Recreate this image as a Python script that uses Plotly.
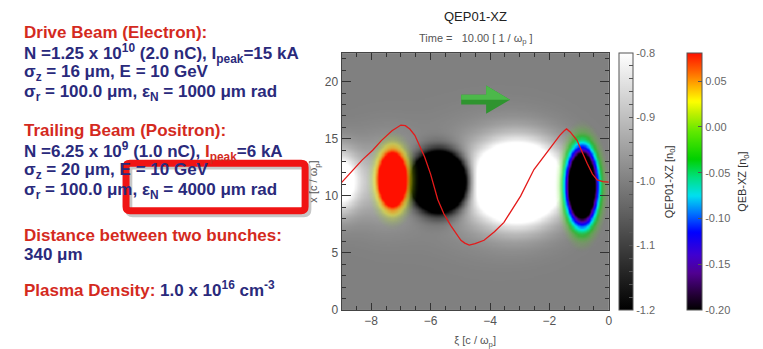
import numpy as np
import plotly.graph_objects as go

W, H = 763, 349

# ---------------- data ----------------
# red lineout curve (xi, x)
xi_line = [-9.0, -8.6, -8.3, -7.95, -7.65, -7.3, -7.1, -7.0, -6.85, -6.7, -6.53, -6.2, -6.0,
           -5.76, -5.55, -5.32, -4.98, -4.85, -4.7, -4.5, -4.2, -3.85, -3.53, -2.97, -2.52,
           -1.96, -1.65, -1.5, -1.42, -1.3, -1.07, -0.73, -0.55, -0.39, -0.2, 0.0]
x_line = [11.15, 12.3, 13.15, 14.0, 14.86, 15.7, 16.05, 16.2, 16.15, 15.85, 15.3, 13.4, 11.9,
          9.68, 8.4, 7.39, 6.1, 5.85, 5.67, 5.8, 6.1, 6.85, 7.67, 9.97, 12.3,
          14.3, 15.3, 15.7, 15.86, 15.6, 14.86, 12.86, 11.9, 11.4, 11.25, 11.2]

# plasma density features (QEP01): background + blobs (center xi, center x, sigma xi, sigma x, amplitude)
plasma_background = -1.0
plasma_cx = [-5.72, -3.05, -9.1, -7.6, -4.0]
plasma_cy = [11.25, 11.2, 11.3, 11.3, 11.2]
plasma_sx = [0.5, 0.95, 0.45, 0.8, 1.5]
plasma_sy = [1.35, 2.2, 1.8, 2.4, 3.0]
plasma_amp = [-1.8, 0.6, 0.3, 0.1, 0.08]

# beam density features (QEB): trailing positron, drive electron
beam_cx = [-7.3, -0.92]
beam_cy = [11.45, 10.9]
beam_sx = [0.29, 0.285]
beam_sy = [1.45, 1.8]
beam_amp = [0.30, -0.69]

gray_ticks = [-1.2, -1.1, -1.0, -0.9, -0.8]
beam_ticks = [-0.20, -0.15, -0.10, -0.05, 0.00, 0.05]

# ---------------- build fields ----------------
xi = np.round(np.arange(-9.0, 0.0001, 0.05), 3)
xx = np.round(np.arange(0.0, 22.5001, 0.1), 3)
XI, XX = np.meshgrid(xi, xx)

plasma = np.full(XI.shape, plasma_background)
for cx, cy, sx, sy, a in zip(plasma_cx, plasma_cy, plasma_sx, plasma_sy, plasma_amp):
    plasma += a * np.exp(-((XI - cx) ** 2 / (2 * sx ** 2) + (XX - cy) ** 2 / (2 * sy ** 2)))
beam = np.zeros(XI.shape)
for cx, cy, sx, sy, a in zip(beam_cx, beam_cy, beam_sx, beam_sy, beam_amp):
    beam += a * np.exp(-((XI - cx) ** 2 / (2 * sx ** 2) + (XX - cy) ** 2 / (2 * sy ** 2)))
plasma = np.round(plasma, 3)
beam = np.round(beam, 4)

BMIN, BMAX = -0.20, 0.081
stops = [(-0.20, (0, 0, 0)), (-0.185, (32, 0, 48)), (-0.16, (80, 0, 144)), (-0.14, (64, 0, 208)),
         (-0.115, (0, 0, 255)), (-0.095, (0, 112, 255)), (-0.075, (0, 224, 240)),
         (-0.055, (0, 224, 128)), (-0.035, (0, 208, 0)), (-0.005, (96, 232, 0)),
         (0.015, (192, 240, 0)), (0.028, (255, 255, 0)), (0.045, (255, 176, 0)),
         (0.062, (255, 96, 0)), (0.081, (255, 16, 0))]


def color_at(v):
    for (v0, c0), (v1, c1) in zip(stops[:-1], stops[1:]):
        if v0 <= v <= v1:
            t = (v - v0) / (v1 - v0)
            return tuple(int(round(c0[i] + t * (c1[i] - c0[i]))) for i in range(3))
    return stops[-1][1] if v > 0 else stops[0][1]


def alpha_at(v):
    if v < 0:
        return float(np.clip((-v - 0.004) / 0.06, 0, 1)) ** 0.9
    return float(np.clip((v - 0.003) / 0.07, 0, 1)) ** 0.85


p_zero = (0 - BMIN) / (BMAX - BMIN)
ps = sorted(set([round(float(p), 5) for p in np.linspace(0, 1, 141)] +
                [round(p_zero, 5), round(p_zero - 0.012, 5), round(p_zero + 0.012, 5)]))
solid_scale = []
alpha_scale = []
for p in ps:
    v = BMIN + p * (BMAX - BMIN)
    r, g, b = color_at(v)
    solid_scale.append([p, f"rgb({r},{g},{b})"])
    alpha_scale.append([p, f"rgba({r},{g},{b},{alpha_at(v):.3f})"])

# ---------------- figure ----------------
x0p, x1p = 343.3 / W, 612 / W
y0p, y1p = 1 - 316.2 / H, 1 - 54.3 / H
cb_font = dict(family="Liberation Sans", size=11, color="#666")

fig = go.Figure()
gt = [round(v, 2) for v in np.arange(-1.2, -0.799, 0.02)]
fig.add_trace(go.Heatmap(
    x=xi, y=xx, z=plasma, zmin=-1.2, zmax=-0.8, zsmooth="best",
    colorscale=[[0, "black"], [1, "white"]], hoverinfo="skip",
    colorbar=dict(x=622.3 / W, xanchor="left", xpad=0, ypad=0, thickness=14,
                  len=(316.5 - 54) / H, lenmode="fraction", y=y0p, yanchor="bottom",
                  outlinewidth=1, outlinecolor="#555",
                  tickvals=gt,
                  ticktext=[(f"{v:.1f}" if any(abs(v - t) < 1e-6 for t in gray_ticks) else "")
                            for v in gt],
                  ticks="inside", ticklen=4, tickcolor="#555", tickfont=cb_font)))
fig.add_trace(go.Heatmap(
    x=xi, y=xx, z=beam, zmin=BMIN, zmax=BMAX, zsmooth="best",
    colorscale=alpha_scale, showscale=False, hoverinfo="skip"))
fig.add_trace(go.Scatter(
    x=xi_line, y=x_line, mode="lines", line=dict(color="#e41a1a", width=1.3),
    hoverinfo="skip", showlegend=False))
fig.add_trace(go.Scatter(
    x=[-100], y=[-100], mode="markers", showlegend=False, hoverinfo="skip",
    marker=dict(size=1, color=[0], cmin=BMIN, cmax=BMAX, colorscale=solid_scale, showscale=True,
                colorbar=dict(x=690.7 / W, xanchor="left", xpad=0, ypad=0, thickness=15,
                              len=(316.5 - 54) / H, lenmode="fraction", y=y0p, yanchor="bottom",
                              outlinewidth=1, outlinecolor="#555",
                              tickvals=beam_ticks, ticktext=[f"{v:.2f}" for v in beam_ticks],
                              ticks="inside", ticklen=4, tickcolor="#555", tickfont=cb_font))))

axis_font = dict(family="Liberation Sans", size=12, color="#555")
fig.update_xaxes(domain=[x0p, x1p], range=[-9, 0], tickvals=[-8, -6, -4, -2, 0],
                 ticks="inside", ticklen=7, tickcolor="#333", mirror="ticks", showline=True,
                 linecolor="#444", linewidth=1, showgrid=False, zeroline=False,
                 minor=dict(ticks="inside", dtick=0.5, ticklen=4, tickcolor="#333"),
                 tickfont=axis_font,
                 title=dict(text="ξ [c / ω<sub>p</sub>]", standoff=9,
                            font=dict(family="Liberation Sans", size=11, color="#555")))
fig.update_yaxes(domain=[y0p, y1p], range=[0, 22.5], tickvals=[0, 5, 10, 15, 20],
                 ticks="inside", ticklen=9, tickcolor="#333", mirror="ticks", showline=True,
                 linecolor="#444", linewidth=1, showgrid=False, zeroline=False,
                 minor=dict(ticks="inside", dtick=1, ticklen=4, tickcolor="#333"),
                 tickfont=axis_font,
                 title=dict(text="x [c / ω<sub>p</sub>]", standoff=4,
                            font=dict(family="Liberation Sans", size=11, color="#555")))

# colorbar titles (rotated)
for txt, xc in [("QEP01-XZ [n<sub>0</sub>]", 673.5), ("QEB-XZ [n<sub>0</sub>]", 747.5)]:
    fig.add_annotation(x=xc / W, y=1 - 185 / H, xref="paper", yref="paper", showarrow=False,
                       xanchor="center", yanchor="middle", textangle=-90, text=txt,
                       font=dict(family="Liberation Sans", size=11, color="#333"))

# green direction arrow (data coords): darker lower half, lighter upper half
fig.add_shape(type="path", xref="x", yref="y",
              path="M -4.97 18.0 L -4.13 18.0 L -4.13 17.2 L -3.32 18.42 L -4.13 19.66 L -4.13 18.85 L -4.97 18.85 Z",
              fillcolor="#2f942f", line=dict(width=0))
fig.add_shape(type="path", xref="x", yref="y",
              path="M -4.97 18.42 L -3.32 18.42 L -4.13 19.66 L -4.13 18.85 L -4.97 18.85 Z",
              fillcolor="#4cb84a", line=dict(width=0))

# chart titles
fig.add_annotation(x=478 / W, y=1 - 16.5 / H, xref="paper", yref="paper", showarrow=False,
                   yanchor="middle", text="QEP01-XZ",
                   font=dict(family="Liberation Sans", size=13, color="#222"))
fig.add_annotation(x=479 / W, y=1 - 40 / H, xref="paper", yref="paper", showarrow=False,
                   yanchor="middle", text="Time =   10.00 [ 1 / ω<sub>p</sub> ]",
                   font=dict(family="Liberation Sans", size=11, color="#555"))

# left slide text
RED = "#d42a1e"
NAVY = "#2a2a7c"
lines = [
    ("Drive Beam (Electron):", RED, 33),
    ("N =1.25 x 10<sup>10</sup> (2.0 nC), I<sub>peak</sub>=15 kA", NAVY, 55),
    ("σ<sub>z</sub> = 16 μm, E = 10 GeV", NAVY, 75),
    ("σ<sub>r</sub> = 100.0 μm, ε<sub>N</sub> = 1000 μm rad", NAVY, 95),
    ("Trailing Beam (Positron):", RED, 133),
    (f"N =6.25 x 10<sup>9</sup> (1.0 nC), <span style='color:{RED}'>I<sub>peak</sub></span>=6 kA", NAVY, 155),
    ("σ<sub>z</sub> = 20 μm, E = 10 GeV", NAVY, 175),
    ("σ<sub>r</sub> = 100.0 μm, ε<sub>N</sub> = 4000 μm rad", NAVY, 195),
    ("Distance between two bunches:", RED, 240),
    ("340 μm", NAVY, 260),
    (f"Plasma Density: <span style='color:{NAVY}'>1.0 x 10<sup>16</sup> cm<sup>-3</sup></span>", RED, 295),
]
for txt, col, yc in lines:
    fig.add_annotation(x=22.5 / W, y=1 - yc / H, xref="paper", yref="paper", xanchor="left",
                       yanchor="middle", showarrow=False, text=f"<b>{txt}</b>",
                       font=dict(family="Liberation Sans", size=17, color=col))


def px_path(x0, y0, x1, y1, r):
    X0, X1 = x0 / W, x1 / W
    Y0, Y1 = 1 - y0 / H, 1 - y1 / H
    rx, ry = r / W, r / H
    return (f"M {X0 + rx} {Y0} L {X1 - rx} {Y0} Q {X1} {Y0} {X1} {Y0 - ry} L {X1} {Y1 + ry} "
            f"Q {X1} {Y1} {X1 - rx} {Y1} L {X0 + rx} {Y1} Q {X0} {Y1} {X0} {Y1 + ry} "
            f"L {X0} {Y0 - ry} Q {X0} {Y0} {X0 + rx} {Y0} Z")


fig.add_shape(type="path", xref="paper", yref="paper", path=px_path(129.5, 169.5, 309.5, 218, 4),
              line=dict(color="rgba(0,0,0,0.22)", width=7))
fig.add_shape(type="path", xref="paper", yref="paper", path=px_path(126.7, 166.7, 306.7, 215, 4),
              line=dict(color="#f01414", width=7))

fig.update_layout(width=W, height=H, margin=dict(l=0, r=0, t=0, b=0),
                  paper_bgcolor="white", plot_bgcolor="#808080", showlegend=False)
fig.write_html("out.html")
